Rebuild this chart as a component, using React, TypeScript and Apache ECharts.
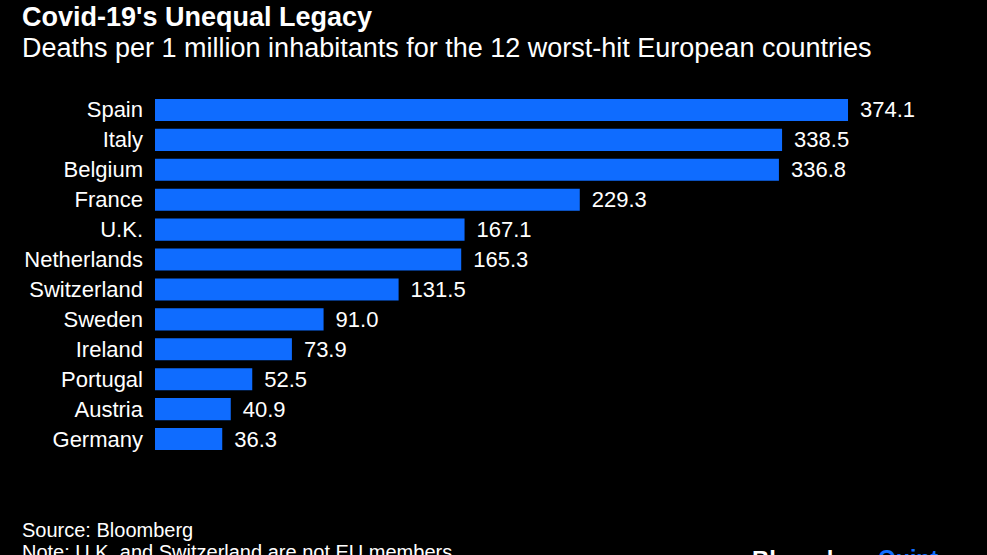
import React, { useEffect, useRef } from "react";
import * as echarts from "echarts";

const countries = ["Spain", "Italy", "Belgium", "France", "U.K.", "Netherlands", "Switzerland", "Sweden", "Ireland", "Portugal", "Austria", "Germany"];
const deaths = [374.1, 338.5, 336.8, 229.3, 167.1, 165.3, 131.5, 91.0, 73.9, 52.5, 40.9, 36.3];

const FONT = "'Liberation Sans', Arial, sans-serif";

export default function App() {
  const ref = useRef<HTMLDivElement>(null);
  useEffect(() => {
    document.body.style.margin = "0";
    document.body.style.background = "#000";
    const chart = echarts.init(ref.current!, null, { renderer: "svg" });
    chart.setOption({
      animation: false,
      backgroundColor: "#000000",
      graphic: [
        { type: "text", left: 22, top: 3, style: { text: "Covid-19's Unequal Legacy", fill: "#fff", font: `bold 27px ${FONT}` } },
        { type: "text", left: 22, top: 34, style: { text: "Deaths per 1 million inhabitants for the 12 worst-hit European countries", fill: "#fff", font: `27px ${FONT}` } },
        { type: "text", left: 22, top: 520, style: { text: "Source: Bloomberg", fill: "#fff", font: `20px ${FONT}` } },
        { type: "text", left: 22, top: 542, style: { text: "Note: U.K. and Switzerland are not EU members", fill: "#fff", font: `20px ${FONT}` } },
        { type: "text", left: 752, top: 547, style: { text: "Bloomberg", fill: "#fff", font: `bold 24px ${FONT}` } },
        { type: "text", left: 878, top: 547, style: { text: "Quint", fill: "#0f6cff", font: `bold 23px ${FONT}` } },
      ],
      grid: { left: 155, top: 95, height: 359, right: 91, containLabel: false },
      xAxis: { type: "value", min: 0, max: 400, show: false },
      yAxis: {
        type: "category",
        data: countries,
        inverse: true,
        axisLine: { show: false },
        axisTick: { show: false },
        axisLabel: { color: "#fff", fontSize: 22, fontFamily: FONT, margin: 12 },
      },
      series: [
        {
          type: "bar",
          data: deaths,
          barCategoryGap: "26%",
          itemStyle: { color: "#0f6cff" },
          label: {
            show: true,
            position: "right",
            distance: 12,
            color: "#fff",
            fontSize: 22,
            fontFamily: FONT,
            formatter: (p: any) => p.value.toFixed(1),
          },
        },
      ],
    });
    return () => chart.dispose();
  }, []);
  return <div ref={ref} style={{ width: 987, height: 555, background: "#000" }} />;
}
